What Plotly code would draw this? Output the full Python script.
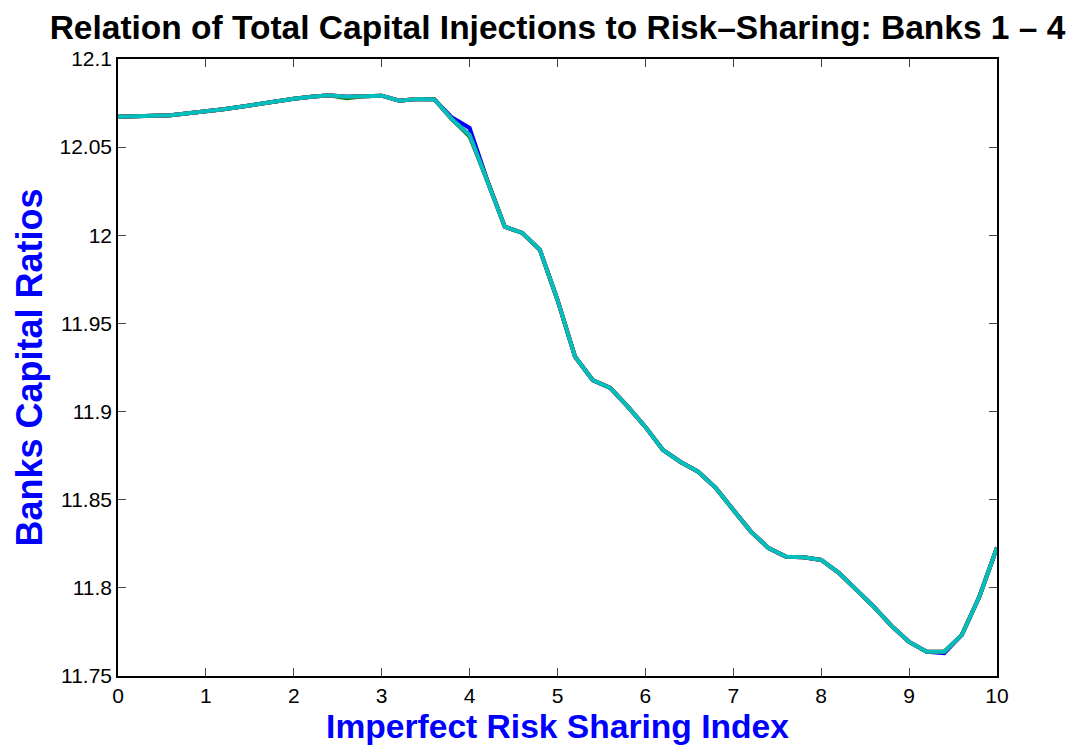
import plotly.graph_objects as go

x_vals = [round(i * 0.2, 1) for i in range(51)]

bank4 = [12.0673, 12.0674, 12.0675, 12.0681, 12.0692, 12.0701, 12.0715, 12.0729, 12.0745, 12.0762,
         12.0775, 12.0786, 12.0794, 12.0786, 12.0788, 12.0792, 12.0763, 12.0773, 12.0771, 12.0658,
         12.0569, 12.0314, 12.0049, 12.0013, 11.9917, 11.9633, 11.9311, 11.9179, 11.9134, 11.9028,
         11.8913, 11.8782, 11.8714, 11.8659, 11.8567, 11.8442, 11.8319, 11.8226, 11.8177, 11.8174,
         11.8158, 11.8085, 11.7988, 11.7892, 11.7784, 11.7693, 11.7637, 11.7638, 11.7733, 11.7951,
         11.8229]
bank1 = list(bank4)
bank1[19] = 12.0668
bank1[20] = 12.0609
bank1[47] = 11.7630
bank2 = list(bank4)
bank2[13] = 12.0778
bank2[20] = 12.0560
bank3 = list(bank4)

series = [("Bank 1", bank1, "rgb(0,0,255)"),
          ("Bank 2", bank2, "rgb(0,128,0)"),
          ("Bank 3", bank3, "rgb(255,0,0)"),
          ("Bank 4", bank4, "rgb(0,191,191)")]

y_ticks = [11.75, 11.8, 11.85, 11.9, 11.95, 12.0, 12.05, 12.1]
y_tick_text = ["11.75", "11.8", "11.85", "11.9", "11.95", "12", "12.05", "12.1"]
x_ticks = list(range(0, 11))

fig = go.Figure()
for name, ys, color in series:
    fig.add_trace(go.Scatter(x=x_vals, y=ys, mode="lines", name=name,
                             line=dict(color=color, width=4)))

font_family = "Liberation Sans, Arial, sans-serif"
fig.update_layout(
    width=1078, height=750,
    paper_bgcolor="white", plot_bgcolor="white",
    showlegend=False,
    margin=dict(l=110, r=89, t=51, b=82),
    title=dict(text="<b>Relation of Total Capital Injections to Risk\u2013Sharing: Banks 1 \u2013 4</b>",
               x=0.5, xref="paper", y=0.9747, yref="container", yanchor="middle",
               font=dict(family=font_family, size=33.5, color="black")),
    font=dict(family=font_family, size=21, color="black"),
)
fig.update_xaxes(range=[0, 10], tickvals=x_ticks, ticks="inside", ticklen=8, tickcolor="#444",
                 showline=True, linecolor="black", linewidth=1.5, mirror="ticks",
                 showgrid=False, zeroline=False, automargin=False,
                 title=dict(text="<b>Imperfect Risk Sharing Index</b>", standoff=9,
                            font=dict(family=font_family, size=33.6, color="rgb(0,0,255)")))
fig.update_yaxes(range=[11.75, 12.1], tickvals=y_ticks, ticktext=y_tick_text, ticks="inside",
                 ticklen=8, tickcolor="#444",
                 showline=True, linecolor="black", linewidth=1.5, mirror="ticks",
                 showgrid=False, zeroline=False, automargin=False,
                 title=dict(text="<b>Banks Capital Ratios</b>", standoff=6,
                            font=dict(family=font_family, size=36, color="rgb(0,0,255)")))

fig.write_html("out.html")
